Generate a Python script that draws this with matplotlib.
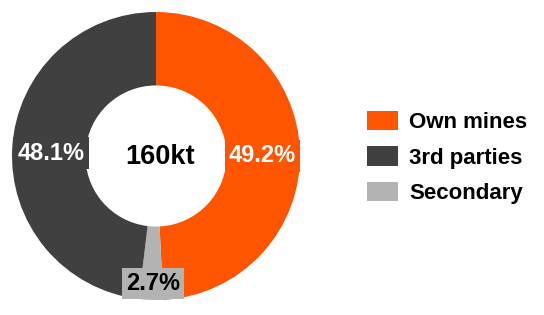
import matplotlib.pyplot as plt

# data
categories = ['Own mines', '3rd parties', 'Secondary']
shares = [49.2, 2.7, 48.1]  # clockwise from top: own, secondary, 3rd parties
share_labels = ['49.2%', '2.7%', '48.1%']
share_colors = ['#FF5500', '#B3B3B3', '#404040']
text_colors = ['white', 'black', 'white']
legend_order = [0, 2, 1]
total_label = '160kt'

plt.rcParams['font.family'] = ['Liberation Sans', 'DejaVu Sans']

fig = plt.figure(figsize=(5.44, 3.15), dpi=100)
ax = fig.add_axes([12 / 544, 15 / 315, 288 / 544, 288 / 315])

wedges, _ = ax.pie(shares, colors=share_colors, startangle=90, counterclock=False,
                   radius=1.0, wedgeprops=dict(width=0.51, linewidth=0))
ax.set_xlim(-1, 1)
ax.set_ylim(-1, 1)
ax.set_aspect('equal')

# center label
ax.text(0.03, -0.01, total_label, ha='center', va='center', fontsize=19.5, fontweight='bold')

# manually placed share labels
label_pos = [(0.74, 0.0), (-0.02, -0.885), (-0.73, 0.02)]
for (x, y), lbl, c, tc in zip(label_pos, share_labels, share_colors, text_colors):
    ax.text(x, y, lbl, ha='center', va='center', fontsize=17, fontweight='bold', color=tc,
            bbox=dict(boxstyle='square,pad=0.18', facecolor=c, edgecolor='none'))

handles = [wedges[i] for i in legend_order]
labels = [categories[0], categories[1], categories[2]]
fig.legend(handles, labels, loc='center left', bbox_to_anchor=(347 / 544, 0.5),
           frameon=False, prop=dict(weight='bold', size=16),
           handlelength=1.4, handleheight=0.95, labelspacing=0.6, handletextpad=0.5)

plt.savefig('out.png', dpi=100)
